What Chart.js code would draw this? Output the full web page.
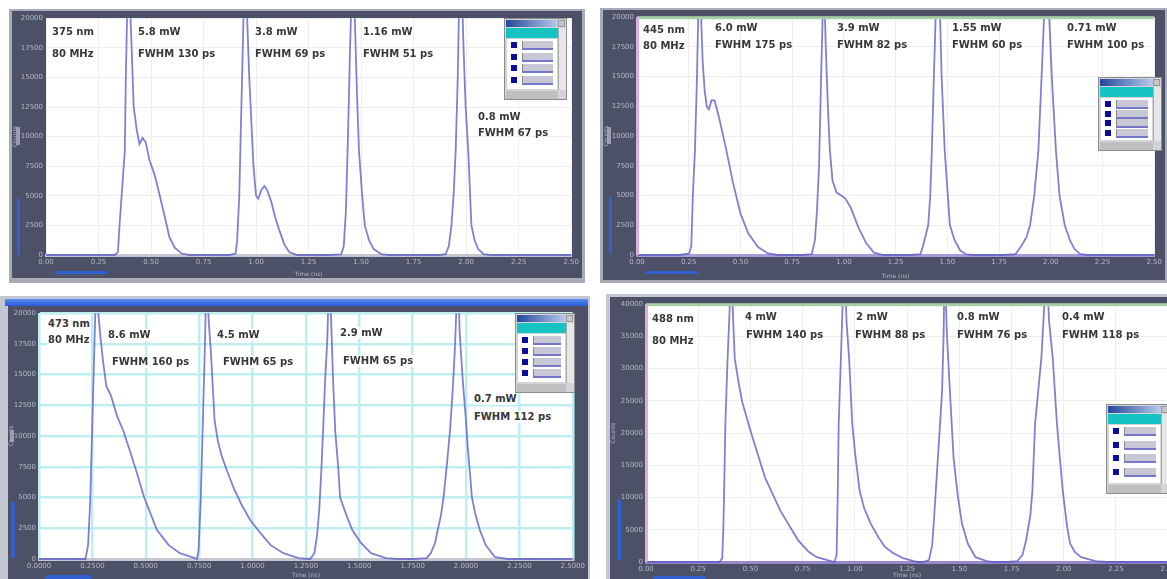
<!DOCTYPE html>
<html><head><meta charset="utf-8">
<script src="https://cdn.jsdelivr.net/npm/chart.js@4.4.1/dist/chart.umd.min.js"></script>
<style>
html,body{margin:0;padding:0;background:#fff;width:1167px;height:579px;overflow:hidden;position:relative;font-family:"DejaVu Sans",sans-serif;}
.abs{position:absolute;box-sizing:border-box;}
.lbl{position:absolute;font:bold 10px "DejaVu Sans",sans-serif;color:#383838;white-space:nowrap;line-height:12px;}
canvas{position:absolute;}
</style></head><body>
<script>
// ---------- DATA (x in time-axis divisions, y in count-axis divisions) ----------
const p1Time = [0,1.31,1.37,1.40,1.46,1.50,1.52,1.56,1.61,1.67,1.73,1.78,1.84,1.90,1.97,2.07,2.16,2.26,2.35,2.45,2.58,2.73,
  3.49,3.61,3.64,3.68,3.72,3.76,3.80,3.83,3.87,3.91,3.95,4.00,4.04,4.10,4.16,4.21,4.29,4.36,4.44,4.54,4.63,4.78,
  5.39,5.62,5.67,5.71,5.75,5.79,5.83,5.88,5.92,5.96,6.02,6.07,6.15,6.24,6.38,6.53,
  7.48,7.61,7.67,7.72,7.76,7.80,7.84,7.87,7.91,7.95,7.99,8.04,8.10,8.16,8.23,8.33,8.46,10];
const p1Counts = [0,0,0.1,1,2.5,3.5,6,9.5,8,5,4.2,3.75,3.95,3.8,3.2,2.7,2.05,1.3,0.6,0.25,0.05,0,
  0,0.05,0.5,2,5,8,9.5,8,6,4.5,3,2.0,1.9,2.2,2.33,2.2,1.8,1.3,0.85,0.35,0.1,0,
  0,0.02,0.3,1.5,4,7,9.5,8,5.5,3.5,2,1,0.5,0.2,0.03,0,
  0,0.03,0.3,1,2,3.5,6,9,9.5,7,5,3.5,1,0.5,0.2,0.03,0,0];

const p2Time = [0,0.82,1.01,1.05,1.08,1.12,1.16,1.20,1.24,1.27,1.31,1.35,1.39,1.44,1.50,1.58,1.71,1.86,2.00,2.15,2.34,2.53,2.72,
  3.19,3.38,3.44,3.48,3.52,3.56,3.61,3.65,3.69,3.73,3.78,3.86,3.95,4.03,4.14,4.28,4.43,4.58,4.77,
  5.29,5.48,5.53,5.63,5.67,5.70,5.74,5.80,5.86,5.89,5.95,6.01,6.05,6.14,6.25,6.37,6.52,
  7.09,7.32,7.43,7.53,7.60,7.68,7.76,7.81,7.87,7.91,7.97,8.02,8.10,8.17,8.27,8.37,8.46,8.57,8.71,10];
const p2Counts = [0,0,0.05,0.3,2,3.5,6,9.5,8,6.5,5.5,5.0,4.9,5.2,5.2,4.67,3.67,2.4,1.4,0.73,0.27,0.05,0,
  0,0.03,0.5,1.5,3,6,9.5,7,5,3.5,2.5,2.1,2.0,1.9,1.57,0.93,0.4,0.08,0,
  0,0.03,0.3,1,2,3.5,6,9.5,8,6,3.5,2,1,0.5,0.15,0.02,0,
  0,0.03,0.3,0.6,1,2,3.5,5.5,8,9.5,8,6,3.5,2,1,0.5,0.2,0.03,0,0];

const p3Time = [0,0.87,0.92,0.96,1.00,1.04,1.08,1.11,1.15,1.20,1.26,1.35,1.46,1.58,1.69,1.82,1.97,2.21,2.43,2.64,2.92,
  2.96,2.99,3.03,3.07,3.11,3.14,3.18,3.22,3.26,3.29,3.35,3.42,3.52,3.65,3.80,3.96,4.15,4.34,4.58,4.86,5.05,
  5.08,5.16,5.21,5.25,5.29,5.33,5.36,5.40,5.44,5.48,5.51,5.55,5.61,5.64,5.76,5.87,6.02,6.22,6.50,6.72,
  7.01,7.26,7.34,7.42,7.47,7.53,7.58,7.64,7.70,7.75,7.79,7.85,7.88,7.94,8.00,8.03,8.07,8.11,8.18,8.26,8.37,8.54,8.79,10];
const p3Counts = [0,0,0.45,1.91,4.5,7.09,9.5,8.0,7.25,6.44,5.63,5.31,4.66,4.17,3.59,2.88,2.01,0.94,0.45,0.19,0.03,
  0,0.29,1.91,4.5,7.09,9.5,7.73,6.76,5.47,4.5,3.85,3.37,2.88,2.30,1.75,1.26,0.84,0.45,0.19,0.03,0,
  0,0.19,0.78,1.59,2.88,4.5,5.79,7.09,9.5,7.41,5.79,4.17,2.88,2.01,1.42,0.94,0.55,0.19,0.03,0,
  0,0.03,0.19,0.52,0.94,1.42,2.01,3.04,4.17,5.47,6.76,9.5,7.41,5.79,4.5,3.69,2.88,2.01,1.42,0.94,0.45,0.06,0,0];

const p4Time = [0,1.41,1.46,1.48,1.50,1.52,1.56,1.60,1.63,1.67,1.70,1.77,1.84,2.02,2.28,2.57,2.91,3.12,3.27,3.54,
  3.61,3.65,3.67,3.69,3.73,3.76,3.80,3.84,3.89,3.95,4.01,4.09,4.18,4.30,4.45,4.58,4.73,4.92,5.13,5.21,
  5.30,5.42,5.48,5.51,5.59,5.67,5.70,5.72,5.76,5.82,5.89,5.97,6.05,6.16,6.31,6.52,6.63,
  6.92,7.11,7.21,7.28,7.36,7.40,7.45,7.51,7.57,7.62,7.66,7.72,7.79,7.87,7.93,7.98,8.06,8.12,8.21,8.33,8.61,8.82,10];
const p4Counts = [0,0,0.12,0.98,2.52,4.28,6.22,7.75,9.5,7.45,6.31,5.6,4.98,3.97,2.62,1.6,0.68,0.31,0.15,0.03,
  0,0.22,1.91,4.28,6.22,7.75,9.5,7.45,6.31,4.28,3.29,2.22,1.66,1.2,0.77,0.46,0.28,0.12,0.03,0,
  0,0.06,0.52,1.2,3.23,5.29,7.14,9.5,7.14,5.29,3.23,2.06,1.2,0.58,0.15,0.03,0,
  0,0.03,0.22,0.68,1.45,2.22,4.28,5.29,6.31,7.75,9.5,7.45,6.31,4.28,3.14,2.22,1.14,0.58,0.31,0.15,0.03,0,0];

// tick labels
const xTicksA = ["0.00","0.25","0.50","0.75","1.00","1.25","1.50","1.75","2.00","2.25","2.50"];
const xTicksB = ["0.0000","0.2500","0.5000","0.7500","1.0000","1.2500","1.5000","1.7500","2.0000","2.2500","2.5000"];
const yTicksA = ["0","2500","5000","7500","10000","12500","15000","17500","20000"];
const yTicksB = ["0","5000","10000","15000","20000","25000","30000","35000","40000"];

// annotation texts
const p1Notes = [["375 nm",52,26],["80 MHz",52,48],["5.8 mW",138,26],["FWHM 130 ps",138,48],["3.8 mW",255,26],["FWHM 69 ps",255,48],
  ["1.16 mW",363,26],["FWHM 51 ps",363,48],["0.8 mW",478,111],["FWHM 67 ps",478,127]];
const p2Notes = [["445 nm",643,24],["80 MHz",643,40],["6.0 mW",715,22],["FWHM 175 ps",715,39],["3.9 mW",837,22],["FWHM 82 ps",837,39],
  ["1.55 mW",952,22],["FWHM 60 ps",952,39],["0.71 mW",1067,22],["FWHM 100 ps",1067,39]];
const p3Notes = [["473 nm",47,318],["80 MHz",47,334],["8.6 mW",107,329],["FWHM 160 ps",111,356],["4.5 mW",216,329],["FWHM 65 ps",222,356],
  ["2.9 mW",339,327],["FWHM 65 ps",342,355],["0.7 mW",473,393],["FWHM 112 ps",473,411]];
const p4Notes = [["488 nm",652,313],["80 MHz",652,335],["4 mW",745,311],["FWHM 140 ps",746,329],["2 mW",856,311],["FWHM 88 ps",855,329],
  ["0.8 mW",957,311],["FWHM 76 ps",957,329],["0.4 mW",1062,311],["FWHM 118 ps",1062,329]];

// ---------- helpers ----------
function box(x,y,w,h,style,parent){
  const d=document.createElement('div'); d.className='abs';
  d.style.cssText+=`left:${x}px;top:${y}px;width:${w}px;height:${h}px;`+(style||'');
  (parent||document.body).appendChild(d); return d;
}
function notes(list, extra){
  list.forEach(([t,x,y])=>{const d=document.createElement('div'); d.className='lbl'; d.textContent=t;
    d.style.left=x+'px'; d.style.top=y+'px'; if(extra) d.style.cssText+=extra; document.body.appendChild(d);});
}
function widget(x,y,w,h){
  const d=box(x,y,w,h,'background:#d4d4d6;border:1px solid #8c8c90;overflow:hidden;');
  box(1,1,w-11,7,'background:linear-gradient(90deg,#23489c,#b9c9ea);',d);
  box(w-10,1,7,7,'background:#c6c6c6;border:1px solid #999;',d);
  box(1,9,w-11,10,'background:#16c3c3;',d);
  box(2,20,w-13,h-32,'background:#fff;',d);
  const rh=(h-36)/4;
  for(let i=0;i<4;i++){
    box(6,23+i*rh,6,6,'background:#0c0c9c;',d);
    box(17,22+i*rh,w-32,9,'background:#c7c7d6;border-bottom:2px solid #7676c8;border-left:1px solid #888;',d);
  }
  box(w-10,9,8,h-20,'background:#e6e6e6;border-left:1px solid #aaa;',d);
  box(1,h-10,w-11,8,'background:#bfbfc2;',d);
}

const tickCol='#b4b8c8';
const bgPlugin={id:'bg',
  beforeDraw(c,a,o){const ctx=c.ctx,ar=c.chartArea;ctx.save();ctx.fillStyle=o.frame;ctx.fillRect(0,0,c.width,c.height);
    ctx.fillStyle='#fff';ctx.fillRect(ar.left,ar.top,ar.right-ar.left,ar.bottom-ar.top);ctx.restore();},
  afterDraw(c,a,o){const ctx=c.ctx,ar=c.chartArea;ctx.save();
    if(o.top){ctx.fillStyle=o.top;ctx.fillRect(ar.left,ar.top-1,ar.right-ar.left,3);}
    if(o.left){ctx.fillStyle=o.left;ctx.fillRect(ar.left-1,ar.top,3,ar.bottom-ar.top);}
    ctx.restore();}
};

function panel(cfg){
  const cv=document.createElement('canvas');
  cv.width=cfg.w; cv.height=cfg.h; cv.style.left=cfg.x+'px'; cv.style.top=cfg.y+'px';
  cv.style.width=cfg.w+'px'; cv.style.height=cfg.h+'px';
  document.body.appendChild(cv);
  const P=cfg.pad;
  new Chart(cv,{
    type:'line',
    data:{datasets:[{data:cfg.time.map((t,i)=>({x:t,y:cfg.counts[i]})),
      borderColor:'rgba(92,92,196,0.78)',borderWidth:1.8,pointRadius:0,tension:0,
      clip:{left:0,top:0,right:0,bottom:4}}]},
    plugins:[bgPlugin],
    options:{responsive:false,animation:false,devicePixelRatio:1,
      layout:{padding:{left:0,top:P.top,right:P.right,bottom:0}},
      plugins:{legend:{display:false},tooltip:{enabled:false},
        bg:{frame:cfg.frame||'#4c5168',top:cfg.topLine,left:cfg.leftLine}},
      scales:{
        x:{type:'linear',min:0,max:10,
          afterBuildTicks:s=>{s.ticks=cfg.xLabels.map((_,i)=>({value:i}));},
          afterFit:s=>{s.height=P.bottom;},
          ticks:{callback:v=>cfg.xLabels[Math.round(v)],color:tickCol,font:{size:7},maxRotation:0,autoSkip:false,padding:3},
          grid:{color:cfg.grid,lineWidth:cfg.gridW,drawTicks:false},
          border:{color:cfg.base,width:3},
          title:{display:true,text:'Time (ns)',color:tickCol,font:{size:6},padding:{top:1,bottom:0}}},
        y:{min:0,max:8,
          afterBuildTicks:s=>{s.ticks=cfg.yLabels.map((_,i)=>({value:i}));},
          afterFit:s=>{s.width=P.left;},
          ticks:{callback:v=>cfg.yLabels[Math.round(v)],color:tickCol,font:{size:7},autoSkip:false,padding:3},
          grid:{color:cfg.grid,lineWidth:cfg.gridW,drawTicks:false},
          border:{color:cfg.yBorder||cfg.grid,width:1},
          title:{display:true,text:'Counts',color:tickCol,font:{size:6},padding:0}}
      }
    }
  });
}

Chart.defaults.font.family='"DejaVu Sans", sans-serif';

// ---------- frames ----------
box(9,9,576,274,'background:#a8acb8;');
box(600,8,567,275,'background:#a8acb8;');
box(0,296,590,283,'background:#c4c8d2;');
box(5,299,583,7,'background:linear-gradient(#5a8ff4,#2a5ad6);');
box(606,294,561,285,'background:#c4c8d2;');

panel({x:12,y:11,w:570,h:267,pad:{left:34,top:4,right:9,bottom:23},time:p1Time,counts:p1Counts,
  xLabels:xTicksA,yLabels:yTicksA,grid:'#eeeeee',gridW:1,base:'#c6c6ce'});
panel({x:603,y:10,w:562,h:270,pad:{left:34,top:4,right:2,bottom:25},time:p2Time,counts:p2Counts,
  xLabels:xTicksA,yLabels:yTicksA,grid:'#eeeeee',gridW:1,base:'#a899d6',topLine:'#a6cfa6',leftLine:'#dcaedc'});
panel({x:8,y:306,w:580,h:273,pad:{left:31,top:6,right:12,bottom:20},time:p3Time,counts:p3Counts,
  xLabels:xTicksB,yLabels:yTicksA,grid:'#bdeff0',gridW:2.5,base:'#c6c6ce'});
panel({x:610,y:297,w:569,h:282,pad:{left:36,top:6,right:7,bottom:17},time:p4Time,counts:p4Counts,
  xLabels:xTicksA,yLabels:yTicksB,grid:'#eeeeee',gridW:1,base:'#9a88cc',topLine:'#a6cfa6',leftLine:'#dcaedc'});

// scrollbar-like decorations
box(17,198,3,57,'background:#2f5fd2;'); box(16,127,4,18,'background:#9a9eae;'); box(55,271,52,3,'background:#2f5fd2;');
box(609,197,3,57,'background:#2f5fd2;'); box(607,127,4,17,'background:#9a9eae;'); box(645,271,53,3,'background:#2f5fd2;');
box(11,502,4,56,'background:#2f5fd2;'); box(10,430,4,12,'background:#9a9eae;'); box(45,575,46,4,'background:#2f5fd2;');
box(618,500,3,60,'background:#2f5fd2;'); box(653,576,53,3,'background:#2f5fd2;');

// legend widgets
widget(504,18,63,82);
widget(1098,77,64,74);
widget(515,313,60,80);
widget(1106,404,64,90);

// annotations
notes(p1Notes); notes(p2Notes); notes(p3Notes,'background:#fff;padding:0 1px;'); notes(p4Notes);
</script>
</body></html>
